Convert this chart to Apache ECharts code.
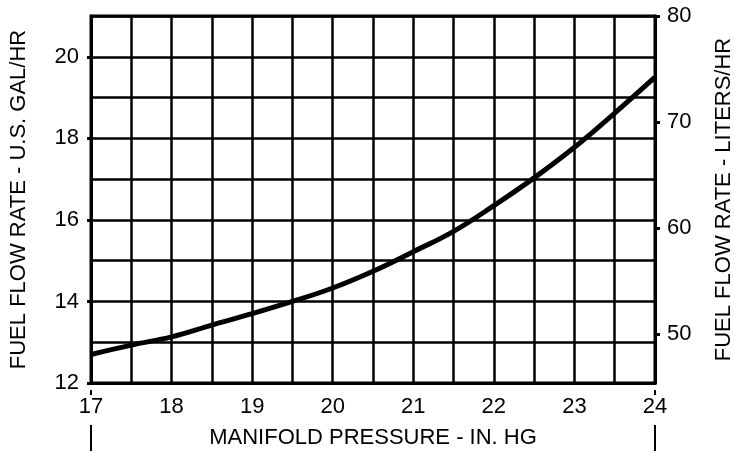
<!DOCTYPE html>
<html>
<head>
<meta charset="utf-8">
<script src="https://cdn.jsdelivr.net/npm/echarts@6/dist/echarts.min.js"></script>
<style>html,body{margin:0;padding:0;background:#fff;}#c{width:734px;height:451px;}</style>
</head>
<body>
<div id="c"></div>
<script>
var pressure = [17, 17.5, 18, 18.5, 19, 19.5, 20, 20.5, 21, 21.5, 22, 22.5, 23, 23.5, 24];
var fuelGal = [12.7, 12.93, 13.13, 13.42, 13.7, 14.0, 14.33, 14.74, 15.22, 15.72, 16.35, 17.03, 17.78, 18.62, 19.5];
var xTickLabels = [17, 18, 19, 20, 21, 22, 23, 24];
var galTickLabels = [12, 14, 16, 18, 20];
var literTickLabels = [50, 60, 70, 80];

var font = 'Liberation Sans, Arial, Helvetica, sans-serif';
var chart = echarts.init(document.getElementById('c'));
var data = pressure.map(function (p, i) { return [p, fuelGal[i]]; });

chart.setOption({
  animation: false,
  backgroundColor: '#fff',
  grid: { left: 91, right: 79, top: 16, bottom: 68, show: true, borderColor: '#000', borderWidth: 3,
          backgroundColor: 'transparent', containLabel: false, outerBoundsMode: 'none' },
  xAxis: {
    type: 'value', min: 17, max: 24, interval: 0.5,
    name: 'MANIFOLD PRESSURE - IN. HG', nameLocation: 'middle', nameGap: 44,
    nameTextStyle: { fontFamily: font, fontSize: 22, color: '#000' },
    axisLine: { show: true, lineStyle: { color: '#000', width: 3 } },
    axisTick: { show: false },
    axisLabel: { customValues: xTickLabels, fontFamily: font, fontSize: 22, color: '#000', margin: 13 },
    splitLine: { show: true, lineStyle: { color: '#000', width: 2.5 } }
  },
  yAxis: [{
    type: 'value', min: 12, max: 21, interval: 1, position: 'left',
    name: 'FUEL FLOW RATE - U.S. GAL/HR', nameLocation: 'middle', nameGap: 61, nameRotate: 90,
    nameTextStyle: { fontFamily: font, fontSize: 22, color: '#000' },
    axisLine: { show: true, lineStyle: { color: '#000', width: 3 } },
    axisTick: { show: false },
    axisLabel: { customValues: galTickLabels, fontFamily: font, fontSize: 22, color: '#000', margin: 12 },
    splitLine: { show: true, lineStyle: { color: '#000', width: 2.5 } }
  }, {
    type: 'value', min: 45.4, max: 80, position: 'right',
    name: 'FUEL FLOW RATE - LITERS/HR', nameLocation: 'middle', nameGap: 58, nameRotate: 90,
    nameTextStyle: { fontFamily: font, fontSize: 22, color: '#000' },
    axisLine: { show: true, lineStyle: { color: '#000', width: 3 } },
    axisTick: { show: true, customValues: literTickLabels, length: 5, lineStyle: { color: '#000', width: 3 } },
    axisLabel: { customValues: literTickLabels, fontFamily: font, fontSize: 22, color: '#000', margin: 12 },
    splitLine: { show: false }
  }, {
    type: 'value', min: 12, max: 21, position: 'left',
    axisLine: { show: false },
    axisTick: { show: true, customValues: galTickLabels, length: 4, lineStyle: { color: '#000', width: 3 } },
    axisLabel: { show: false },
    splitLine: { show: false }
  }],
  series: [{
    type: 'line', data: data, smooth: 0.4, showSymbol: false, yAxisIndex: 0,
    lineStyle: { color: '#000', width: 5 }, z: 5
  }]
});

function drawMarks() {
  var a = chart.convertToPixel({ gridIndex: 0 }, [17, 12]);
  var b = chart.convertToPixel({ gridIndex: 0 }, [24, 12]);
  var els = [];
  [a, b].forEach(function (p) {
    els.push({ type: 'line', shape: { x1: p[0], y1: p[1] + 7, x2: p[0], y2: p[1] + 12 }, style: { stroke: '#000', lineWidth: 2 } });
    els.push({ type: 'line', shape: { x1: p[0], y1: p[1] + 42, x2: p[0], y2: p[1] + 68 }, style: { stroke: '#000', lineWidth: 2 } });
  });
  chart.setOption({ graphic: els });
}
drawMarks();
</script>
</body>
</html>
